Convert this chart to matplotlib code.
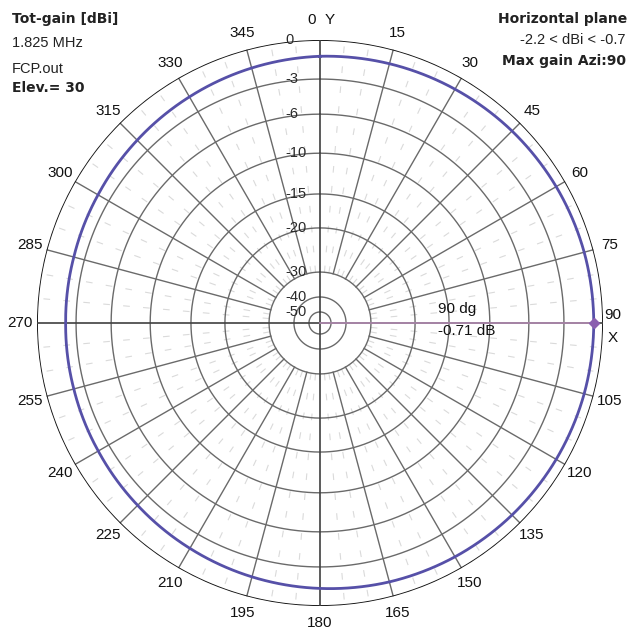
import matplotlib.pyplot as plt
import numpy as np

# horizontal-plane pattern, tot-gain in dBi
azimuth = [0, 15, 30, 45, 60, 75, 90, 105, 120, 135, 150, 165,
           180, 195, 210, 225, 240, 255, 270, 285, 300, 315, 330, 345]
gain_dbi = [-1.25, -1.12, -1.00, -0.88, -0.79, -0.73, -0.71, -0.73, -0.79, -0.88, -1.00, -1.15,
            -1.35, -1.55, -1.75, -1.93, -2.07, -2.16, -2.20, -2.16, -2.05, -1.88, -1.68, -1.46]
ring_db = [0, -3, -6, -10, -15, -20, -30, -40, -50]
angle_labels = [str(a) for a in range(0, 360, 15)]
max_azi = 90
max_gain = -0.71

# 4nec2 style log-ish radial scale (dB -> fraction of radius)
scale_db = [-60, -50, -40, -30, -20, -15, -10, -6, -3, 0]
scale_fr = [0.0, 0.039, 0.092, 0.18, 0.336, 0.456, 0.60, 0.738, 0.862, 1.0]


def fwd(d):
    return np.interp(d, scale_db, scale_fr)


def inv(f):
    return np.interp(f, scale_fr, scale_db)


W, H = 631, 632
fig = plt.figure(figsize=(W / 100, H / 100), dpi=100)
fig.patch.set_facecolor("white")
ax = fig.add_axes([37 / W, 26 / H, 566 / W, 566 / H], projection="polar")
ax.set_theta_zero_location("N")
ax.set_theta_direction(-1)
ax.set_rscale("function", functions=(fwd, inv))
ax.set_rlim(-60, 0)
ax.set_xticks([])
ax.set_yticks([])
ax.grid(False)
ax.spines["polar"].set_visible(False)
ax.set_facecolor("white")

full = np.linspace(0, 2 * np.pi, 721)
grid_col = "#6a6a6a"

# light 5-degree dashes
for a in range(0, 360, 5):
    if a % 15:
        ax.plot([np.radians(a)] * 2, [-30, 0], color="#dadada", lw=0.8,
                dashes=(6, 12), zorder=1)

# 15-degree spokes
for a in range(0, 360, 15):
    if a % 90:
        ax.plot([np.radians(a)] * 2, [-30, 0], color=grid_col, lw=1.0, zorder=2)

# rings
for d in ring_db:
    if d == 0:
        ax.plot(full, np.full_like(full, d), color="#111111", lw=1.3, zorder=3)
    else:
        ax.plot(full, np.full_like(full, d), color=grid_col, lw=1.0, zorder=2)

# main axes lines
for a in (0, 90):
    ax.plot([np.radians(a), np.radians(a + 180)], [0, 0], color="#404040", lw=1.2,
            zorder=3)

# pattern trace (drawn as polar curve between samples)
th = np.radians(azimuth + [azimuth[0] + 360])
g = gain_dbi + [gain_dbi[0]]
trace, = ax.plot(th, g, color="#5650a8", lw=2.0, zorder=5)
trace.get_path()._interpolation_steps = 30

# max gain marker line
ax.plot([np.radians(max_azi)] * 2, [-60, max_gain], color="#b48cb4", lw=1.2, zorder=4)
ax.plot([np.radians(max_azi)], [max_gain], marker="D", ms=5, color="#8a5fb0",
        zorder=6)

# ring labels
for d in ring_db:
    ax.text((285 - 37) / 566, 0.5 + 0.5 * fwd(d), str(d), transform=ax.transAxes,
            ha="left", va="center", fontsize=10.5, color="#2a2a2a",
            family="Liberation Sans", zorder=7)

# angle labels
rl = 1.06
lab_kw = dict(ha="center", va="center", fontsize=11, family="Liberation Sans",
              color="#111111")
for lab in angle_labels:
    a = np.radians(int(lab))
    x = 0.5 + 0.5 * rl * np.sin(a)
    y = 0.5 + 0.5 * rl * np.cos(a)
    if lab == "0":
        fig.text(312 / W, 1 - 20 / H, "0", **lab_kw)
        fig.text(330 / W, 1 - 20 / H, "Y", **lab_kw)
    elif lab == "90":
        fig.text(613 / W, 1 - 315 / H, "90", **lab_kw)
        fig.text(613 / W, 1 - 338 / H, "X", **lab_kw)
    else:
        ax.text(x, y, lab, transform=ax.transAxes, **lab_kw)

# marker readout
fig.text(438 / W, 1 - 309 / H, "%d dg" % max_azi, ha="left", va="center", fontsize=11,
         family="Liberation Sans", color="#111111")
fig.text(438 / W, 1 - 331 / H, "%.2f dB" % max_gain, ha="left", va="center",
         fontsize=11, family="Liberation Sans", color="#111111")

# header texts
bold_kw = dict(va="center", fontsize=10, fontweight="bold", family="DejaVu Sans",
               color="#222222")
reg_kw = dict(va="center", fontsize=10.5, family="Liberation Sans", color="#222222")
fig.text(12 / W, 1 - 19 / H, "Tot-gain [dBi]", ha="left", **bold_kw)
fig.text(12 / W, 1 - 43 / H, "1.825 MHz", ha="left", **reg_kw)
fig.text(12 / W, 1 - 69 / H, "FCP.out", ha="left", **reg_kw)
fig.text(12 / W, 1 - 88 / H, "Elev.= 30", ha="left", **bold_kw)
fig.text(627 / W, 1 - 19 / H, "Horizontal plane", ha="right", **bold_kw)
fig.text(626 / W, 1 - 40 / H, "%.1f < dBi < %.1f" % (min(gain_dbi), max(gain_dbi)),
         ha="right", **reg_kw)
fig.text(626 / W, 1 - 61 / H, "Max gain Azi:%d" % max_azi, ha="right", **bold_kw)

fig.savefig("out.png", dpi=100, facecolor="white")
